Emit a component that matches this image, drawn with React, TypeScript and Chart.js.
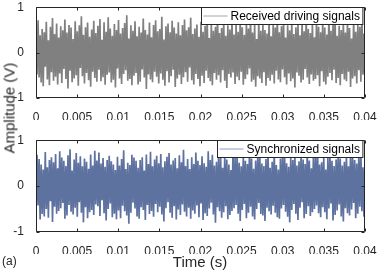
import React, { useEffect, useRef } from "react";
import { Chart, registerables } from "chart.js";

Chart.register(...registerables);

// ---------- data ----------
const timeStart = 0;
const timeEnd = 0.04;
const xTickValues = [0, 0.005, 0.01, 0.015, 0.02, 0.025, 0.03, 0.035, 0.04];
const yTickValues = [-1, 0, 1];
const seriesLabels = ["Received driving signals", "Synchronized signals"];
const axisTitleY = "Amplitude (V)";
const axisTitleX = "Time (s)";
const panelTag = "(a)";

const receivedSignal = [
  0.62,-0.48,0.71,-0.55,0.38,-0.66,0.52,-0.74,0.45,-0.31,0.68,-0.59,0.27,-0.72,0.57,-0.43,0.76,-0.62,0.41,-0.53,
  0.64,-0.70,0.33,-0.46,0.58,-0.67,0.49,-0.36,0.73,-0.58,0.44,-0.79,0.61,-0.40,0.55,-0.65,0.30,-0.57,0.69,-0.50,
  0.47,-0.73,0.60,-0.34,0.80,-0.52,0.39,-0.68,0.56,-0.45,0.66,-0.61,0.35,-0.75,0.51,-0.42,0.70,-0.56,0.43,-0.64,
  0.59,-0.38,0.74,-0.63,0.28,-0.54,0.67,-0.71,0.46,-0.49,0.78,-0.44,0.53,-0.66,0.37,-0.60,0.63,-0.77,0.50,-0.35,
  0.72,-0.57,0.42,-0.69,0.54,-0.47,0.65,-0.39,0.82,-0.62,0.31,-0.58,0.60,-0.72,0.48,-0.51,0.69,-0.45,0.36,-0.70,
  0.57,-0.64,0.44,-0.37,0.75,-0.55,0.50,-0.80,0.40,-0.48,0.66,-0.59,0.34,-0.65,0.61,-0.42,0.71,-0.53,0.47,-0.68,
  0.52,-0.46,0.79,-0.60,0.29,-0.73,0.58,-0.41,0.64,-0.66,0.45,-0.52,0.70,-0.38,0.55,-0.76,0.42,-0.57,0.67,-0.49,
  0.38,-0.69,0.61,-0.54,0.73,-0.43,0.49,-0.64,0.56,-0.33,0.77,-0.61,0.41,-0.70,0.53,-0.47,0.62,-0.58,0.35,-0.74,
  0.68,-0.51,0.46,-0.67,0.59,-0.40,0.74,-0.56,0.32,-0.63,0.65,-0.72,0.48,-0.45,0.57,-0.60,0.81,-0.50,0.43,-0.66,
  0.54,-0.39,0.70,-0.62,0.37,-0.78,0.60,-0.47,0.51,-0.55,0.72,-0.44,0.40,-0.69,0.63,-0.53,0.46,-0.61,0.75,-0.42,
  0.56,-0.71,0.39,-0.58,0.66,-0.48,0.53,-0.35,0.78,-0.64,0.44,-0.60,0.62,-0.75,0.30,-0.52,0.69,-0.57,0.48,-0.67,
  0.61,-0.43,0.50,-0.73,0.42,-0.56,0.71,-0.62,0.36,-0.49,0.64,-0.68,0.55,-0.40,0.80,-0.59,0.45,-0.65,0.58,-0.37,
  0.73,-0.54,0.33,-0.70,0.60,-0.46,0.49,-0.63,0.67,-0.57,0.41,-0.77,0.56,-0.44,0.63,-0.51,0.38,-0.66,0.70,-0.60,
  0.47,-0.36,0.76,-0.55,0.52,-0.69,0.43,-0.48,0.65,-0.62,0.34,-0.58,0.72,-0.50,0.57,-0.74,0.45,-0.41,0.68,-0.64,
  0.55,-0.70,0.40,-0.53,0.79,-0.45,0.48,-0.61,0.62,-0.38,0.71,-0.67,0.37,-0.56,0.59,-0.72,0.50,-0.47,0.66,-0.59,
  0.44,-0.63,0.69,-0.42,0.54,-0.76,0.31,-0.57,0.74,-0.52,0.46,-0.68,0.61,-0.39,0.57,-0.64,0.83,-0.49,0.42,-0.71,
];

const synchronizedSignal = [
  -0.55,0.68,-0.42,0.59,-0.73,0.47,-0.61,0.36,-0.66,0.74,-0.50,0.41,-0.69,0.57,-0.33,0.63,-0.78,0.52,-0.45,0.70,
  -0.60,0.39,-0.54,0.76,-0.48,0.62,-0.37,0.55,-0.71,0.44,-0.64,0.67,-0.41,0.80,-0.56,0.34,-0.62,0.58,-0.47,0.72,
  -0.67,0.51,-0.35,0.65,-0.58,0.43,-0.79,0.60,-0.46,0.53,-0.70,0.38,-0.57,0.69,-0.52,0.45,-0.63,0.77,-0.40,0.56,
  -0.44,0.73,-0.65,0.49,-0.31,0.61,-0.59,0.42,-0.75,0.57,-0.50,0.66,-0.38,0.54,-0.68,0.47,-0.60,0.35,-0.72,0.64,
  -0.53,0.45,-0.70,0.59,-0.43,0.78,-0.55,0.37,-0.64,0.51,-0.82,0.46,-0.58,0.68,-0.36,0.62,-0.49,0.55,-0.66,0.40,
  -0.71,0.57,-0.46,0.63,-0.52,0.34,-0.74,0.69,-0.41,0.48,-0.61,0.75,-0.54,0.43,-0.67,0.58,-0.39,0.66,-0.57,0.50,
  -0.45,0.70,-0.62,0.41,-0.77,0.54,-0.48,0.64,-0.35,0.72,-0.58,0.47,-0.69,0.56,-0.44,0.61,-0.73,0.39,-0.51,0.67,
  -0.63,0.52,-0.40,0.79,-0.56,0.44,-0.66,0.59,-0.47,0.37,-0.71,0.63,-0.53,0.48,-0.60,0.73,-0.42,0.55,-0.68,0.46,
  -0.38,0.65,-0.74,0.50,-0.59,0.42,-0.65,0.76,-0.49,0.57,-0.36,0.68,-0.62,0.45,-0.80,0.53,-0.46,0.61,-0.55,0.71,
  -0.69,0.40,-0.57,0.66,-0.44,0.58,-0.72,0.47,-0.63,0.35,-0.54,0.74,-0.48,0.62,-0.41,0.69,-0.60,0.51,-0.76,0.43,
  -0.52,0.67,-0.39,0.55,-0.70,0.48,-0.58,0.81,-0.45,0.60,-0.66,0.38,-0.73,0.56,-0.50,0.64,-0.37,0.71,-0.61,0.49,
  -0.64,0.44,-0.76,0.59,-0.47,0.69,-0.55,0.40,-0.62,0.53,-0.43,0.77,-0.58,0.46,-0.68,0.36,-0.71,0.60,-0.49,0.65,
  -0.41,0.73,-0.56,0.50,-0.67,0.42,-0.79,0.63,-0.52,0.57,-0.39,0.68,-0.60,0.45,-0.74,0.54,-0.47,0.66,-0.35,0.58,
  -0.70,0.48,-0.61,0.75,-0.44,0.56,-0.65,0.39,-0.57,0.70,-0.50,0.62,-0.42,0.79,-0.59,0.47,-0.68,0.52,-0.46,0.64,
  -0.57,0.36,-0.72,0.61,-0.49,0.67,-0.38,0.55,-0.75,0.44,-0.63,0.58,-0.53,0.72,-0.40,0.60,-0.66,0.45,-0.77,0.53,
  -0.48,0.69,-0.59,0.43,-0.64,0.78,-0.51,0.62,-0.37,0.57,-0.70,0.49,-0.60,0.66,-0.45,0.74,-0.55,0.41,-0.67,0.59,
];

// ---------- styling ----------
const FONT = "'Liberation Sans', Arial, Helvetica, sans-serif";
const AXIS_COLOR = "#262626";
const GRAY = "#808080";
const BLUE = "#5e72a0";

function toPoints(values: number[]) {
  const n = values.length;
  return values.map((v, i) => ({
    x: timeStart + ((timeEnd - timeStart) * i) / (n - 1),
    y: v,
  }));
}

function fmt(v: number) {
  return String(Number(v.toFixed(4)));
}

const framePlugin = {
  id: "matlabFrame",
  afterDatasetsDraw(chart: any, _args: any, opts: any) {
    const { ctx, chartArea: a, scales } = chart;
    ctx.save();
    ctx.strokeStyle = AXIS_COLOR;
    ctx.lineWidth = 1;
    const L = Math.round(a.left) + 0.5;
    const R = Math.round(a.right) - 0.5;
    const T = Math.round(a.top) + 0.5;
    const B = Math.round(a.bottom) - 0.5;
    ctx.beginPath();
    ctx.rect(L, T, R - L, B - T);
    const tl = 3;
    for (const v of xTickValues) {
      const x = Math.round(scales.x.getPixelForValue(v)) + 0.5;
      ctx.moveTo(x, B);
      ctx.lineTo(x, B - tl);
      ctx.moveTo(x, T);
      ctx.lineTo(x, T + tl);
    }
    for (const v of yTickValues) {
      const y = Math.round(scales.y.getPixelForValue(v)) + 0.5;
      ctx.moveTo(L, y);
      ctx.lineTo(L + tl, y);
      ctx.moveTo(R, y);
      ctx.lineTo(R - tl, y);
    }
    ctx.stroke();

    // legend box (top-right, inside)
    const label: string = opts.label;
    const color: string = opts.color;
    ctx.font = `12px ${FONT}`;
    const tw = ctx.measureText(label).width;
    const lineLen = 24;
    const boxW = 2 + lineLen + 3 + tw + 3;
    const boxH = 17;
    const bx = Math.round(R - 2 - boxW) + 0.5;
    const by = Math.round(T - 1) + 0.5;
    ctx.fillStyle = "#ffffff";
    ctx.fillRect(bx, by, boxW, boxH);
    ctx.strokeStyle = AXIS_COLOR;
    ctx.lineWidth = 1;
    ctx.strokeRect(bx, by, boxW, boxH);
    ctx.strokeStyle = color;
    ctx.globalAlpha = 0.7;
    ctx.beginPath();
    const ly = by + boxH / 2;
    ctx.moveTo(bx + 2, ly);
    ctx.lineTo(bx + 2 + lineLen, ly);
    ctx.stroke();
    ctx.globalAlpha = 1;
    ctx.fillStyle = "#000000";
    ctx.textBaseline = "middle";
    ctx.textAlign = "left";
    ctx.fillText(label, bx + 2 + lineLen + 3, ly + 0.5);
    ctx.restore();
  },
};

function buildConfig(values: number[], color: string, label: string): any {
  return {
    type: "line",
    data: {
      datasets: [
        {
          label,
          data: toPoints(values),
          borderColor: color,
          borderWidth: 1.7,
          pointRadius: 0,
          tension: 0,
          fill: false,
        },
      ],
    },
    options: {
      animation: false,
      responsive: false,
      events: [],
      layout: { padding: { left: 0, right: 17, top: 10, bottom: 0 } },
      plugins: {
        legend: { display: false },
        tooltip: { enabled: false },
        matlabFrame: { label, color },
      },
      scales: {
        x: {
          type: "linear",
          min: timeStart,
          max: timeEnd,
          grid: { display: false },
          border: { display: false },
          afterBuildTicks: (s: any) => {
            s.ticks = xTickValues.map((v) => ({ value: v }));
          },
          afterFit: (s: any) => {
            s.height = 22;
          },
          ticks: {
            autoSkip: false,
            maxRotation: 0,
            padding: 4,
            color: AXIS_COLOR,
            font: { family: FONT, size: 12 },
            callback: (v: any) => fmt(Number(v)),
          },
        },
        y: {
          type: "linear",
          min: -1,
          max: 1,
          grid: { display: false },
          border: { display: false },
          afterBuildTicks: (s: any) => {
            s.ticks = yTickValues.map((v) => ({ value: v }));
          },
          afterFit: (s: any) => {
            s.width = 36;
          },
          ticks: {
            padding: 4,
            color: AXIS_COLOR,
            font: { family: FONT, size: 12 },
            callback: (v: any) => fmt(Number(v)),
          },
        },
      },
    },
    plugins: [framePlugin],
  };
}

export default function App() {
  const topRef = useRef<HTMLCanvasElement | null>(null);
  const botRef = useRef<HTMLCanvasElement | null>(null);

  useEffect(() => {
    document.body.style.margin = "0";
    const c1 = new Chart(topRef.current as HTMLCanvasElement, buildConfig(receivedSignal, GRAY, seriesLabels[0]));
    const c2 = new Chart(botRef.current as HTMLCanvasElement, buildConfig(synchronizedSignal, BLUE, seriesLabels[1]));
    return () => {
      c1.destroy();
      c2.destroy();
    };
  }, []);

  const textBase: React.CSSProperties = {
    position: "absolute",
    fontFamily: FONT,
    color: AXIS_COLOR,
    whiteSpace: "nowrap",
    lineHeight: 1,
  };

  return (
    <div style={{ position: "fixed", left: 0, top: 0, width: 382, height: 270, background: "#fff", overflow: "hidden" }}>
      <canvas ref={topRef} width={382} height={124} style={{ position: "absolute", left: 0, top: -4, display: "block" }} />
      <canvas ref={botRef} width={382} height={125} style={{ position: "absolute", left: 0, top: 129, display: "block" }} />
      <div
        style={{
          ...textBase,
          fontSize: 15,
          left: 9,
          top: 108,
          transform: "translate(-50%, -50%) rotate(-90deg)",
        }}
      >
        {axisTitleY}
      </div>
      <div style={{ ...textBase, fontSize: 15, left: 200, top: 261, transform: "translate(-50%, -50%)" }}>{axisTitleX}</div>
      <div style={{ ...textBase, fontSize: 12, left: 2, top: 261, transform: "translateY(-50%)" }}>{panelTag}</div>
    </div>
  );
}
